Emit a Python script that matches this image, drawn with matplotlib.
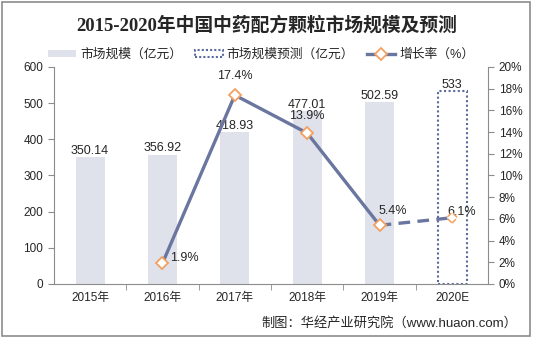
import matplotlib
matplotlib.use("Agg")
import matplotlib.pyplot as plt
from matplotlib.patches import Rectangle, Patch
from matplotlib.lines import Line2D
import numpy as np

plt.rcParams['font.family'] = ['Liberation Sans', 'Noto Sans CJK SC', 'DejaVu Sans']

# Data
years = ["2015年", "2016年", "2017年", "2018年", "2019年", "2020E"]
market = [350.14, 356.92, 418.93, 477.01, 502.59]
forecast = 533
growth_years = [1, 2, 3, 4]
growth = [1.9, 17.4, 13.9, 5.4]
growth_2020 = 6.1

bar_color = "#DFE2EA"
line_color = "#6A76A0"
marker_edge = "#F4A060"
box_color = "#5A6A9C"

fig = plt.figure(figsize=(5.33, 3.38), dpi=100)
ax = fig.add_axes([0.101, 0.160, 0.815, 0.642])
ax2 = ax.twinx()

x = np.arange(len(years))
w = 0.40

ax.bar(x[:5], market, width=w, color=bar_color, zorder=1)
ax.bar(x[5], forecast, width=w, facecolor="none", edgecolor=box_color,
       linestyle=(0, (1, 1.2)), linewidth=1.5, zorder=1)

for xi, v in zip(x[:5], market):
    ax.text(xi, v + 18, f"{v:.2f}", ha="center", va="center", fontsize=9, color="#262626")
ax.text(x[5], forecast + 18, f"{forecast}", ha="center", va="center", fontsize=9, color="#262626")

ax.set_xlim(-0.5, 5.5)
ax.set_ylim(0, 600)
ax.set_yticks(range(0, 601, 100))
ax.set_xticks(x)
ax.set_xticklabels(years)
ax.set_xticks(np.arange(0.5, 5.5, 1), minor=True)
ax.tick_params(axis="x", which="major", length=0, labelsize=8.5, pad=6, colors="#262626")
ax.tick_params(axis="x", which="minor", length=4, direction="out", color="#8C8C8C")
ax.tick_params(axis="y", labelsize=8.5, length=4, direction="out", color="#8C8C8C", colors="#262626")
for s in ["top", "right"]:
    ax.spines[s].set_visible(False)
for s in ["left", "bottom"]:
    ax.spines[s].set_color("#8C8C8C")

# Growth rate line on right axis
ax2.plot(growth_years, growth, color=line_color, linewidth=2.4, zorder=3)
ax2.plot([growth_years[-1], 5], [growth[-1], growth_2020], color=line_color,
         linewidth=2.4, linestyle=(0, (3.5, 2.2)), zorder=3)
ax2.plot(growth_years, growth, linestyle="none", marker="D", markersize=6.2,
         markerfacecolor="white", markeredgecolor=marker_edge, markeredgewidth=1.3, zorder=4)
ax2.scatter([5], [growth_2020], marker="D", s=30, facecolors="white",
            edgecolors=marker_edge, linewidths=1.1, linestyles="--", zorder=4)

ax2.set_ylim(0, 20)
ax2.set_yticks(range(0, 21, 2))
ax2.set_yticklabels([f"{v}%" for v in range(0, 21, 2)])
ax2.tick_params(axis="y", labelsize=8.5, length=4, direction="out", color="#8C8C8C", colors="#262626")
for s in ["top", "left", "bottom"]:
    ax2.spines[s].set_visible(False)
ax2.spines["right"].set_color("#8C8C8C")

lbl = dict(fontsize=9, color="#262626", va="center")
ax2.text(1.10, 1.9 + 0.45, "1.9%", ha="left", **lbl)
ax2.text(2, 17.4 + 1.75, "17.4%", ha="center", **lbl)
ax2.text(3, 13.9 + 1.55, "13.9%", ha="center", **lbl)
ax2.text(4.18, 5.4 + 1.3, "5.4%", ha="center", **lbl)
ax2.text(5.13, 6.1 + 0.5, "6.1%", ha="center", **lbl)

# Title
fig.text(0.5, 0.925, "2015-2020年中国中药配方颗粒市场规模及预测", ha="center", va="center",
         fontsize=13.5, fontweight="bold", color="#262626",
         family=["Liberation Serif", "Noto Sans CJK SC"])

# Legend
handles = [
    Patch(facecolor=bar_color, edgecolor="none"),
    Patch(facecolor="none", edgecolor=box_color, linestyle=(0, (1, 1)), linewidth=1.5),
    Line2D([0], [0], color=line_color, linewidth=2.4, marker="D", markersize=6.2,
           markerfacecolor="white", markeredgecolor=marker_edge, markeredgewidth=1.3),
]
labels = ["市场规模（亿元）", "市场规模预测（亿元）", "增长率（%）"]
fig.legend(handles, labels, loc="center", bbox_to_anchor=(0.49, 0.838), ncol=3,
           frameon=False, fontsize=9.2, handlelength=2.2, handleheight=0.5,
           columnspacing=1.0, handletextpad=0.3, labelcolor="#262626")

# Source note
fig.text(0.97, 0.044, "制图：华经产业研究院（www.huaon.com）", ha="right", va="center",
         fontsize=9.5, color="#262626")

# Outer frame
fig.add_artist(Rectangle((0.004, 0.006), 0.991, 0.988, transform=fig.transFigure,
                         facecolor="none", edgecolor="#8C8C8C", linewidth=1.2))

fig.savefig("out.png", dpi=100)
